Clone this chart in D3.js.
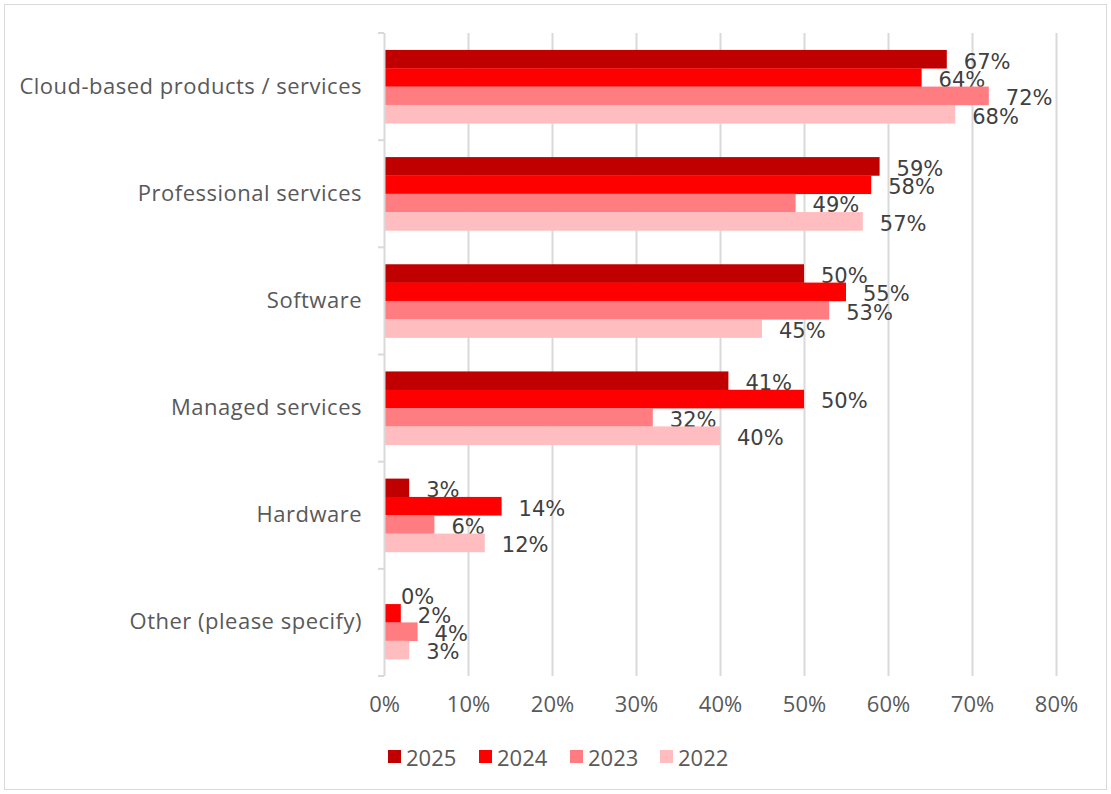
<!DOCTYPE html>
<html>
<head>
<meta charset="utf-8">
<script src="https://cdn.jsdelivr.net/npm/d3@7"></script>
<style>
  html, body { margin: 0; padding: 0; background: #fff; }
  svg { display: block; }
</style>
</head>
<body>
<svg id="chart" width="1111" height="794"></svg>
<script>
// Survey categories, top to bottom
const categories = [
  "Cloud-based products / services",
  "Professional services",
  "Software",
  "Managed services",
  "Hardware",
  "Other (please specify)"
];
// Series (years) in drawing order within each group
const years = ["2025", "2024", "2023", "2022"];
const values2025 = [67, 59, 50, 41, 3, 0];
const values2024 = [64, 58, 55, 50, 14, 2];
const values2023 = [72, 49, 53, 32, 6, 4];
const values2022 = [68, 57, 45, 40, 12, 3];
const xTicks = [0, 10, 20, 30, 40, 50, 60, 70, 80];
const colors = ["#C00000", "#FF0000", "#FF7C80", "#FFBDBF"];

const seriesValues = [values2025, values2024, values2023, values2022];

const svg = d3.select("#chart");
const W = 1111, H = 794;

// Outer chart frame
svg.append("rect")
  .attr("x", 4.5).attr("y", 4.5)
  .attr("width", W - 9).attr("height", H - 9)
  .attr("fill", "#fff").attr("stroke", "#d9d9d9").attr("stroke-width", 1);

const plot = { left: 384, right: 1056, top: 33, bottom: 676 };

const x = d3.scaleLinear().domain([0, 80]).range([plot.left, plot.right]);
const y = d3.scaleBand().domain(categories).range([plot.top, plot.bottom]).paddingInner(0).paddingOuter(0);
const barH = y.bandwidth() * 0.171;
const groupH = barH * years.length;
const yInner = d3.scaleBand().domain(years).range([0, groupH]);

const axisFont = "'Open Sans', 'Noto Sans', sans-serif";
const labelFont = "'DejaVu Sans', sans-serif";

// Vertical gridlines
svg.append("g").selectAll("line")
  .data(xTicks.slice(1))
  .join("line")
  .attr("x1", d => Math.round(x(d)) + 0.5).attr("x2", d => Math.round(x(d)) + 0.5)
  .attr("y1", plot.top).attr("y2", plot.bottom)
  .attr("stroke", "#d9d9d9").attr("stroke-width", 2);

// Bars with value labels
const groups = svg.append("g").selectAll("g")
  .data(categories)
  .join("g")
  .attr("transform", c => `translate(0,${y(c) + (y.bandwidth() - groupH) / 2})`);

groups.each(function(c, ci) {
  const g = d3.select(this);
  years.forEach((yr, si) => {
    const v = seriesValues[si][ci];
    g.append("rect")
      .attr("x", x(0))
      .attr("y", yInner(yr))
      .attr("width", x(v) - x(0))
      .attr("height", yInner.bandwidth() + 0.3)
      .attr("fill", colors[si]);
    g.append("text")
      .attr("x", x(v) + 17)
      .attr("y", yInner(yr) + yInner.bandwidth() / 2 + 2.5)
      .attr("dominant-baseline", "central")
      .attr("font-family", labelFont)
      .attr("font-size", 21)
      .attr("fill", "#404040")
      .text(v + "%");
  });
});

// Category labels
const yAxis = d3.axisLeft(y).tickSize(0).tickPadding(22);
const yAxisG = svg.append("g").attr("transform", `translate(${plot.left},0)`).call(yAxis);
yAxisG.select(".domain").remove();
yAxisG.selectAll("text")
  .attr("font-family", axisFont)
  .attr("font-size", 22)
  .attr("letter-spacing", 0.5)
  .attr("fill", "#595959");

// Category axis line with tick marks at group boundaries
const boundaries = categories.map(c => y(c)).concat([plot.bottom]);
svg.append("line")
  .attr("x1", plot.left + 0.5).attr("x2", plot.left + 0.5)
  .attr("y1", plot.top).attr("y2", plot.bottom)
  .attr("stroke", "#d9d9d9").attr("stroke-width", 2);
svg.append("g").selectAll("line")
  .data(boundaries)
  .join("line")
  .attr("x1", plot.left - 6).attr("x2", plot.left)
  .attr("y1", d => d).attr("y2", d => d)
  .attr("stroke", "#d9d9d9").attr("stroke-width", 2);

// Value axis labels
const xAxis = d3.axisBottom(x).tickValues(xTicks).tickSize(0).tickPadding(20).tickFormat(d => d + "%");
const xAxisG = svg.append("g").attr("transform", `translate(0,${plot.bottom})`).call(xAxis);
xAxisG.select(".domain").remove();
xAxisG.selectAll("text")
  .attr("font-family", axisFont)
  .attr("font-size", 22)
  .attr("fill", "#595959");

// Legend
const legendX = [388, 479, 570, 660];
const legend = svg.append("g").selectAll("g")
  .data(years)
  .join("g")
  .attr("transform", (d, i) => `translate(${legendX[i]},750)`);
legend.append("rect")
  .attr("width", 13).attr("height", 13)
  .attr("fill", (d, i) => colors[i]);
legend.append("text")
  .attr("x", 18).attr("y", 7)
  .attr("dominant-baseline", "central")
  .attr("font-family", axisFont)
  .attr("font-size", 22)
  .attr("fill", "#595959")
  .text(d => d);
</script>
</body>
</html>
